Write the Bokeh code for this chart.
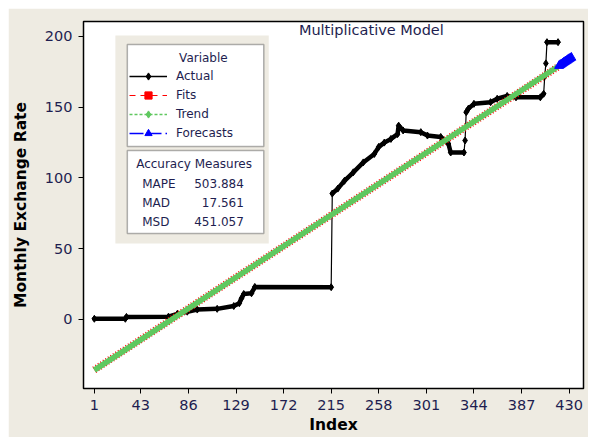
from bokeh.plotting import figure
from bokeh.models import (Range1d, FixedTicker, Legend, LegendItem, BoxAnnotation, Label)
from bokeh.embed import file_html
from bokeh.resources import INLINE

# ---------------- data ----------------
actual_index = [1, 29, 30, 68, 76, 85, 94, 112, 127, 132, 134, 136, 143, 146, 215,
                216, 221, 227, 235, 244, 254, 258, 263, 269, 275, 276, 280, 296, 302,
                314, 321, 323, 335, 336, 337, 339, 344, 359, 365, 374, 382, 404, 407,
                408, 409, 410, 420]
actual_value = [0.5, 0.5, 1.8, 2.0, 4.0, 5.5, 7.0, 7.5, 9.5, 11.5, 15.0, 18.0, 18.5, 23.0, 22.8,
                89.0, 92.5, 98.0, 104.0, 111.0, 117.0, 122.0, 125.0, 127.6, 131.0, 137.0, 133.6, 132.4, 130.0,
                129.0, 124.0, 118.0, 118.0, 126.5, 146.5, 149.0, 152.4, 153.6, 156.0, 158.0, 157.0, 157.0, 159.5,
                172.0, 181.0, 196.0, 196.0]

trend_index = [1, 420]
trend_value = [-35.8, 178.8]

fits_index = [1, 420]
fits_value = [-35.6, 178.6]

forecast_index = [421, 422, 423, 424, 425, 426, 427, 428, 429, 430, 431, 432]
forecast_value = [179.3, 179.9, 180.4, 180.9, 181.5, 182.0, 182.5, 183.0, 183.6, 184.1, 184.6, 185.1]

x_ticks = [1, 43, 86, 129, 172, 215, 258, 301, 344, 387, 430]
y_ticks = [0, 50, 100, 150, 200]

series_names = ["Actual", "Fits", "Trend", "Forecasts"]
accuracy_names = ["MAPE", "MAD", "MSD"]
accuracy_values = ["503.884", "17.561", "451.057"]

# ---------------- styling ----------------
BEIGE = "#EEEBE2"
NAVY = "#1E1E50"
GREEN = "#5FC85F"
FONT = "DejaVu Sans"
NAN = float("nan")

X0, X1 = -8.8, 443.0
Y0, Y1 = -48.8, 210.6
OFF = 8                              # page margin added around the figure
W, H = 580, 429
FL, FR, FT, FB = 81, 583, 21, 388    # frame edges in page pixels


def dx(px):
    return X0 + (px - FL) * (X1 - X0) / (FR - FL)


def dy(py):
    return Y1 - (py - FT) * (Y1 - Y0) / (FB - FT)


p = figure(width=W, height=H, output_backend="svg", toolbar_location=None,
           x_range=Range1d(X0, X1), y_range=Range1d(Y0, Y1),
           min_border_left=FL - OFF, min_border_right=W - (FR - OFF),
           min_border_top=FT - OFF, min_border_bottom=H - (FB - OFF))
p.margin = (OFF, 0, 0, OFF)
p.background_fill_color = "white"
p.border_fill_color = BEIGE
p.outline_line_color = "black"
p.outline_line_width = 1.5
p.xgrid.visible = False
p.ygrid.visible = False

for ax in (p.xaxis[0], p.yaxis[0]):
    ax.axis_line_color = "black"
    ax.major_tick_line_color = "black"
    ax.major_tick_out = 5
    ax.major_tick_in = 0
    ax.minor_tick_line_color = None
    ax.major_label_text_font = FONT
    ax.major_label_text_font_size = "14.5px"
    ax.major_label_text_color = NAVY
    ax.axis_label_text_font = FONT
    ax.axis_label_text_font_size = "15.5px"
    ax.axis_label_text_font_style = "bold"
    ax.axis_label_text_color = "black"

p.xaxis.ticker = FixedTicker(ticks=x_ticks)
p.yaxis.ticker = FixedTicker(ticks=y_ticks)
p.xaxis.axis_label = "Index"
p.yaxis.axis_label = "Monthly Exchange Rate"
p.xaxis.major_label_standoff = 6
p.xaxis.axis_label_standoff = 3
p.yaxis.major_label_standoff = 6
p.yaxis.axis_label_standoff = 12

# ---------------- Actual ----------------
runs_x, runs_y = [], []
cur_x, cur_y = [actual_index[0]], [actual_value[0]]
for i in range(1, len(actual_index)):
    if abs(actual_value[i] - actual_value[i - 1]) > 8:
        runs_x.append(cur_x)
        runs_y.append(cur_y)
        cur_x, cur_y = [], []
    cur_x.append(actual_index[i])
    cur_y.append(actual_value[i])
runs_x.append(cur_x)
runs_y.append(cur_y)
runs_x2 = [r for r in runs_x if len(r) > 1]
runs_y2 = [runs_y[k] for k, r in enumerate(runs_x) if len(r) > 1]

p.line(actual_index, actual_value, color="black", line_width=1.2)
p.multi_line(runs_x2, runs_y2, color="black", line_width=4.5, line_cap="round", line_join="round")
p.scatter(actual_index, actual_value, marker="diamond", size=7, color="black")

# ---------------- Fits & Trend ----------------
p.line(fits_index, fits_value, color="red", line_width=7.5, line_dash="1 2")
p.line(trend_index, trend_value, color=GREEN, line_width=5.5)

# ---------------- Forecasts ----------------
p.line(forecast_index, forecast_value, color="blue", line_width=3)
p.scatter(forecast_index, forecast_value, marker="triangle", size=9, color="blue")

# ---------------- legend panel ----------------
panel = BoxAnnotation(left=dx(113), right=dx(267), top=dy(35), bottom=dy(243),
                      fill_color=BEIGE, fill_alpha=1, line_color=None)
p.add_layout(panel)
box1 = BoxAnnotation(left=dx(125), right=dx(262), top=dy(44), bottom=dy(146),
                     fill_color="white", fill_alpha=1, line_color="black", line_width=1.5)
p.add_layout(box1)
p.add_layout(Label(x=dx(177), y=dy(57), text="Variable", text_font=FONT,
                   text_font_size="12px", text_color=NAVY, level="overlay",
                   text_align="left", text_baseline="middle"))

# legend-only renderers (a single NaN point: nothing drawn in the plot area)
la1 = p.line([NAN], [NAN], color="black", line_width=1.5)
la2 = p.scatter([NAN], [NAN], marker="diamond", size=9, color="black")
lf1 = p.line([NAN], [NAN], color="red", line_width=1.2, line_dash="6 5")
lf2 = p.scatter([NAN], [NAN], marker="square", size=7, color="red")
lt1 = p.line([NAN], [NAN], color=GREEN, line_width=1.5, line_dash="3 2")
lt2 = p.scatter([NAN], [NAN], marker="diamond", size=9, color=GREEN)
lc1 = p.line([NAN], [NAN], color="blue", line_width=1.5, line_dash="14 4")
lc2 = p.scatter([NAN], [NAN], marker="triangle", size=8, color="blue")

legend = Legend(items=[
    LegendItem(label=series_names[0], renderers=[la1, la2]),
    LegendItem(label=series_names[1], renderers=[lf1, lf2]),
    LegendItem(label=series_names[2], renderers=[lt1, lt2]),
    LegendItem(label=series_names[3], renderers=[lc1, lc2]),
], location=(125 - FL + 2, FB - 142))
legend.label_text_font = FONT
legend.label_text_font_size = "12px"
legend.label_text_color = NAVY
legend.glyph_width = 38
legend.glyph_height = 18
legend.label_height = 18
legend.label_width = 80
legend.label_standoff = 9
legend.spacing = 1
legend.padding = 5
legend.margin = 0
legend.border_line_color = None
legend.background_fill_alpha = 0
p.add_layout(legend)

# ---------------- accuracy box ----------------
acc = BoxAnnotation(left=dx(125), right=dx(262), top=dy(150), bottom=dy(233),
                    fill_color="white", fill_alpha=1, line_color="black", line_width=1.5)
p.add_layout(acc)
p.add_layout(Label(x=dx(192), y=dy(163), text="Accuracy Measures", text_font=FONT,
                   text_font_size="12px", text_color=NAVY, level="overlay",
                   text_align="center", text_baseline="middle"))
for k, (nm, vl) in enumerate(zip(accuracy_names, accuracy_values)):
    yy = dy(183 + 19 * k)
    p.add_layout(Label(x=dx(140), y=yy, text=nm, text_font=FONT, text_font_size="12px",
                       text_color=NAVY, text_align="left", text_baseline="middle",
                       level="overlay"))
    p.add_layout(Label(x=dx(242), y=yy, text=vl, text_font=FONT, text_font_size="12px",
                       text_color=NAVY, text_align="right", text_baseline="middle",
                       level="overlay"))

# ---------------- title ----------------
p.add_layout(Label(x=dx(370), y=Y1, text="Multiplicative Model", text_font=FONT,
                   text_font_size="14.5px", text_color=NAVY, level="overlay",
                   text_align="center", text_baseline="top"))

open("out.html", "w").write(file_html(p, INLINE))
